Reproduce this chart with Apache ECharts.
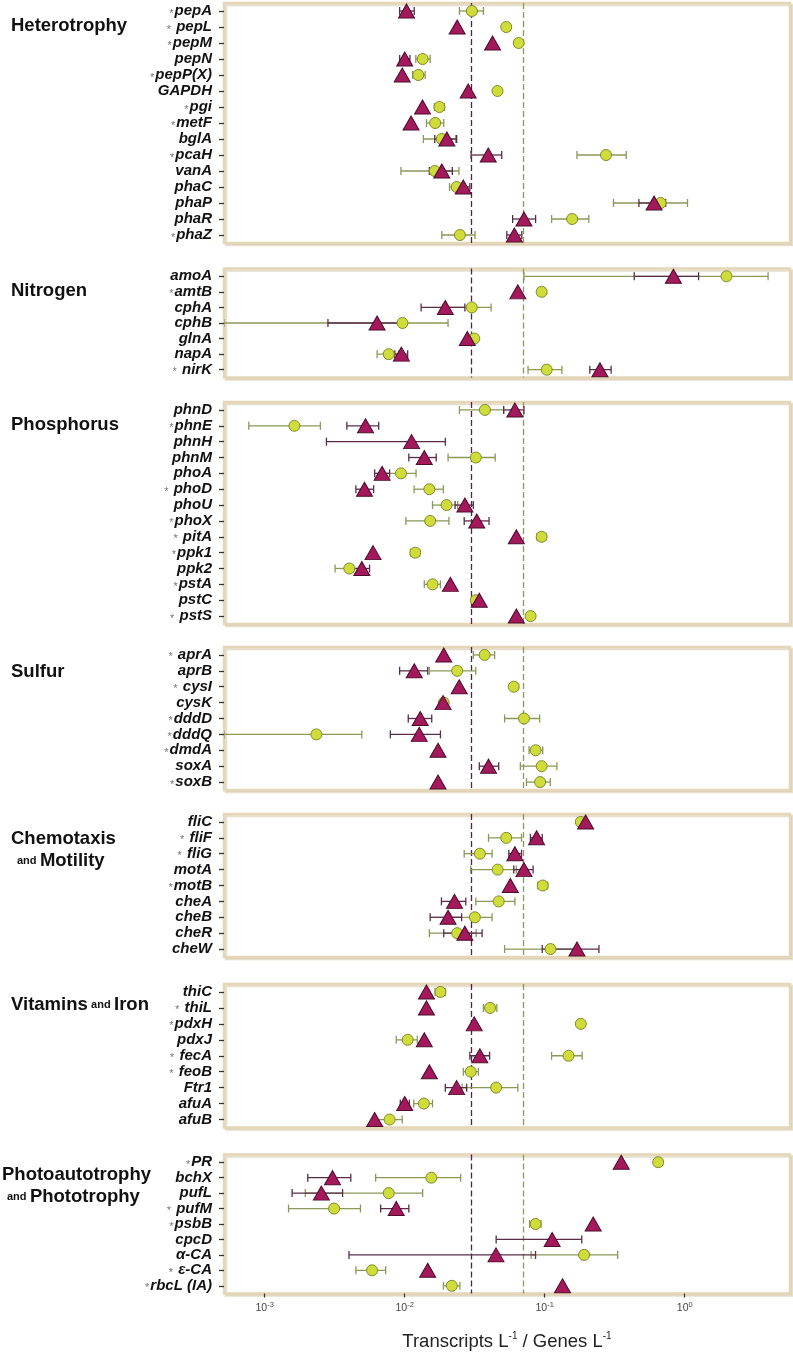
<!DOCTYPE html>
<html><head><meta charset="utf-8">
<script src="https://cdn.jsdelivr.net/npm/echarts@6/dist/echarts.min.js"></script>
<style>html,body{margin:0;padding:0;background:#fff}#c{width:793px;height:1352px}</style>
</head><body><div id="c"></div><script>
// ---------- DATA ----------
const tickValues = [0.001, 0.01, 0.1, 1];
const refLines = [0.0322, 0.0722];           // purple (triangles), green (circles)

const heteroGenes = ['*pepA','* pepL','*pepM','pepN','*pepP(X)','GAPDH','*pgi','*metF','bglA','*pcaH','vanA','phaC','phaP','phaR','*phaZ'];
const heteroTri   = [0.0103,0.0237,0.0424,0.0100,0.0096,0.0284,0.0134,0.0111,0.0200,0.0395,0.0184,0.0262,0.604,0.0711,0.0607];
const heteroTriErr= [[0.0092,0.0117],null,null,[0.0092,0.0109],null,null,null,null,[0.0164,0.0235],[0.0298,0.0493],[0.0150,0.0219],[0.0232,0.0292],[0.471,0.731],[0.059,0.0861],[0.0536,0.0686]];
const heteroCirc  = [0.0302,0.0531,0.0652,0.01344,0.0125,0.046,0.0177,0.0165,0.0184,0.274,0.0164,0.0235,0.673,0.157,0.0248];
const heteroCircErr=[[0.0246,0.0365],null,null,[0.0120,0.0152],[0.0114,0.0140],null,[0.0163,0.0192],[0.0143,0.0190],[0.0136,0.0231],[0.170,0.382],[0.0094,0.0244],[0.0209,0.0261],[0.310,1.047],[0.112,0.2065],[0.0184,0.0318]];

const nitroGenes = ['amoA','*amtB','cphA','cphB','glnA','napA','* nirK'];
const nitroTri   = [0.83,0.0643,0.0195,0.00635,0.028,0.00947,0.248];
const nitroTriErr= [[0.436,1.256],null,[0.0131,0.0269],[0.00283,0.0099],null,[0.0085,0.0105],[0.21,0.298]];
const nitroCirc  = [1.99,0.0951,0.0301,0.00964,0.0314,0.00769,0.1033];
const nitroCircErr=[[0.0711,3.94],[0.089,0.101],[0.0188,0.0414],[-0.001,0.0204],null,[0.00635,0.00903],[0.076,0.1327]];

const phosGenes = ['phnD','*phnE','phnH','phnM','phoA','* phoD','phoU','*phoX','* pitA','*ppk1','ppk2','*pstA','pstC','* pstS'];
const phosTri   = [0.0612,0.00525,0.0112,0.0138,0.0069,0.00516,0.0269,0.0327,0.0627,0.00594,0.00494,0.0212,0.0341,0.0627];
const phosTriErr= [[0.0509,0.0711],[0.00386,0.00652],[0.00276,0.0195],[0.0107,0.0168],[0.0061,0.0078],[0.00448,0.0060],[0.0229,0.0309],[0.0266,0.040],null,null,[0.00427,0.00561],null,null,null];
const phosCirc  = [0.0374,0.00163,null,0.0322,0.0094,0.0150,0.0199,0.0152,0.0951,0.0119,0.00402,0.0158,0.0322,0.0793];
const phosCircErr=[[0.0246,0.0509],[0.00077,0.0025],null,[0.0204,0.0443],[0.00675,0.01205],[0.01167,0.0189],[0.0158,0.0239],[0.0102,0.0207],[0.088,0.102],[0.011,0.0128],[0.00318,0.00486],[0.0138,0.018],null,null];

const sulfGenes = ['* aprA','aprB','* cysI','cysK','*dddD','*dddQ','*dmdA','soxA','*soxB'];
const sulfTri   = [0.019,0.0117,0.0245,0.0188,0.0129,0.0127,0.0173,0.0397,0.0173];
const sulfTriErr= [null,[0.0092,0.0146],null,null,[0.0106,0.0156],[0.0079,0.018],null,[0.0341,0.0469],null];
const sulfCirc  = [0.0372,0.0237,0.0601,0.019,0.0711,0.00234,0.0861,0.0951,0.0927];
const sulfCircErr=[[0.0309,0.0439],[0.015,0.0322],[0.057,0.064],null,[0.0517,0.092],[-0.0003,0.00494],[0.0773,0.0968],[0.067,0.1222],[0.0741,0.1096]];

const chemGenes = ['fliC','* fliF','* fliG','motA','*motB','cheA','cheB','cheR','cheW'];
const chemTri   = [0.196,0.0875,0.0612,0.0711,0.0568,0.0227,0.0204,0.0269,0.170];
const chemTriErr= [null,[0.079,0.096],[0.0554,0.0683],[0.0601,0.0826],null,[0.0183,0.0273],[0.0152,0.0255],[0.019,0.0357],[0.096,0.244]];
const chemCirc  = [0.181,0.0531,0.0344,0.0461,0.0968,0.0469,0.0317,0.0237,0.110];
const chemCircErr=[null,[0.0397,0.0683],[0.0266,0.0421],[0.0296,0.0626],[0.089,0.105],[0.0322,0.0612],[0.0213,0.0421],[0.015,0.0324],[0.0517,0.169]];

const vitGenes = ['thiC','* thiL','*pdxH','pdxJ','* fecA','* feoB','Ftr1','afuA','afuB'];
const vitTri   = [0.0143,0.0143,0.0314,0.0138,0.0344,0.015,0.0235,0.0100,0.0061];
const vitTriErr= [null,null,null,null,[0.0292,0.0404],null,[0.0195,0.0277],[0.0093,0.0108],null];
const vitCirc  = [0.018,0.0407,0.181,0.0105,0.148,0.0296,0.045,0.0137,0.0078];
const vitCircErr=[[0.0165,0.0195],[0.0365,0.0455],null,[0.0087,0.0123],[0.112,0.185],[0.0262,0.0336],[0.0257,0.0643],[0.0116,0.0158],[0.006,0.0096]];

const photoGenes = ['*PR','bchX','pufL','* pufM','*psbB','cpcD','α-CA','* ε-CA','*rbcL (IA)'];
const photoTri   = [0.352,0.00305,0.00254,0.0087,0.222,0.113,0.0449,0.0146,0.134];
const photoTriErr= [null,[0.00203,0.00412],[0.00157,0.0036],[0.00673,0.0107],null,[0.045,0.184],[0.004,0.086],null,null];
const photoCirc  = [0.646,0.0155,0.00769,0.00313,0.0861,null,0.191,0.00585,0.0217];
const photoCircErr=[null,[0.0062,0.0251],[0.00195,0.01343],[0.00148,0.00483],[0.078,0.094],null,[0.08,0.332],[0.00448,0.00731],[0.0189,0.0248]];

const panels = [
  {genes: heteroGenes, tri: heteroTri, triErr: heteroTriErr, circ: heteroCirc, circErr: heteroCircErr},
  {genes: nitroGenes, tri: nitroTri, triErr: nitroTriErr, circ: nitroCirc, circErr: nitroCircErr},
  {genes: phosGenes, tri: phosTri, triErr: phosTriErr, circ: phosCirc, circErr: phosCircErr},
  {genes: sulfGenes, tri: sulfTri, triErr: sulfTriErr, circ: sulfCirc, circErr: sulfCircErr},
  {genes: chemGenes, tri: chemTri, triErr: chemTriErr, circ: chemCirc, circErr: chemCircErr},
  {genes: vitGenes, tri: vitTri, triErr: vitTriErr, circ: vitCirc, circErr: vitCircErr},
  {genes: photoGenes, tri: photoTri, triErr: photoTriErr, circ: photoCirc, circErr: photoCircErr}
];

// ---------- LAYOUT / STYLE ----------
const X_MIN = 5.12e-4, X_MAX = 5.65;
const boxes = [[3,240],[268.5,109],[402,222],[647,143],[814,143],[984,143.5],[1154.5,146]];
const GRID_LEFT = 224, GRID_RIGHT = 3;
const TRI_FILL = '#a3195b', TRI_EDGE = '#4d0c2c', TRI_BAR = '#5b2c4a';
const CIR_FILL = '#cfdc3a', CIR_EDGE = '#7f8c2a', CIR_BAR = '#8a9858';
const FONT = 'Liberation Sans, Arial, sans-serif';

function errRenderer(color) {
  return function (params, api) {
    const a = api.coord([api.value(0), api.value(2)]);
    const b = api.coord([api.value(1), api.value(2)]);
    const y = a[1], h = 4;
    const st = {stroke: color, lineWidth: 1.3};
    return {type: 'group', children: [
      {type: 'line', shape: {x1: a[0], y1: y, x2: b[0], y2: y}, style: st},
      {type: 'line', shape: {x1: a[0], y1: y - h, x2: a[0], y2: y + h}, style: st},
      {type: 'line', shape: {x1: b[0], y1: y - h, x2: b[0], y2: y + h}, style: st}
    ]};
  };
}
function errData(arr) {
  const out = [];
  arr.forEach((e, i) => { if (e) out.push([Math.max(e[0], X_MIN), Math.min(e[1], X_MAX), i]); });
  return out;
}
function ptData(arr) {
  const out = [];
  arr.forEach((v, i) => { if (v != null) out.push([v, i]); });
  return out;
}

const grid = [], xAxis = [], yAxis = [], series = [];
panels.forEach((p, k) => {
  const last = k === panels.length - 1;
  grid.push({left: GRID_LEFT, right: GRID_RIGHT, top: boxes[k][0], height: boxes[k][1],
    show: true, borderColor: '#e4d6b6', borderWidth: 2.5, backgroundColor: '#fff',
    shadowColor: 'rgba(215,200,170,0.6)', shadowBlur: 0, shadowOffsetX: 2, shadowOffsetY: 2});
  xAxis.push({type: 'log', logBase: 10, gridIndex: k, min: X_MIN, max: X_MAX, show: last,
    axisLine: {show: false}, splitLine: {show: false},
    axisTick: {show: last, length: 4, inside: false, customValues: tickValues, lineStyle: {color: '#333', width: 1.2}},
    axisLabel: {show: last, margin: 7, customValues: tickValues,
      formatter: v => '{b|10}{s|' + Math.round(Math.log10(v)) + '}',
      rich: {b: {fontFamily: FONT, fontSize: 10.5, color: '#444'}, s: {fontFamily: FONT, fontSize: 7.5, color: '#444', padding: [0, 0, 7, 0]}}},
    name: last ? '{t|Transcripts L}{s|-1}{t| / Genes L}{s|-1}' : '',
    nameLocation: 'middle', nameGap: 38,
    nameTextStyle: {rich: {t: {fontFamily: FONT, fontSize: 18.5, color: '#222'}, s: {fontFamily: FONT, fontSize: 10, color: '#222', padding: [0, 0, 10, 0]}}}
  });
  yAxis.push({type: 'category', gridIndex: k, data: p.genes, inverse: true, boundaryGap: true,
    axisLine: {show: false}, splitLine: {show: false},
    axisTick: {show: true, length: 5, alignWithLabel: true, lineStyle: {color: '#333', width: 1.3}},
    axisLabel: {interval: 0, margin: 12,
      formatter: v => v.charAt(0) === '*' ? '{a|*}{g|' + v.slice(1) + '}' : '{g|' + v + '}',
      rich: {g: {fontFamily: FONT, fontWeight: 'bold', fontStyle: 'italic', fontSize: 15, color: '#111'},
             a: {fontFamily: FONT, fontSize: 11, color: '#777', padding: [5, 1, 0, 0]}}}
  });
  series.push({type: 'custom', name: 'circle-err', xAxisIndex: k, yAxisIndex: k, z: 2, clip: true,
    renderItem: errRenderer(CIR_BAR), encode: {x: 0, y: 2}, data: errData(p.circErr)});
  series.push({type: 'custom', name: 'triangle-err', xAxisIndex: k, yAxisIndex: k, z: 2, clip: true,
    renderItem: errRenderer(TRI_BAR), encode: {x: 0, y: 2}, data: errData(p.triErr)});
  series.push({type: 'scatter', name: 'circle', xAxisIndex: k, yAxisIndex: k, z: 3,
    symbol: 'circle', symbolSize: 11, data: ptData(p.circ),
    itemStyle: {color: CIR_FILL, borderColor: CIR_EDGE, borderWidth: 1, opacity: 1},
    markLine: {silent: true, symbol: 'none', z: 1, label: {show: false}, animation: false,
      data: [{xAxis: refLines[0], lineStyle: {color: '#4a2a40', type: [6, 3], width: 1.3}},
             {xAxis: refLines[1], lineStyle: {color: '#8a9a5a', type: [6, 3], width: 1.3}}]}});
  series.push({type: 'scatter', name: 'triangle', xAxisIndex: k, yAxisIndex: k, z: 4,
    symbol: 'triangle', symbolSize: [16, 14], data: ptData(p.tri),
    itemStyle: {color: TRI_FILL, borderColor: TRI_EDGE, borderWidth: 1, opacity: 1}});
});

const gRich = {b: {fontFamily: FONT, fontWeight: 'bold', fontSize: 18.5, fill: '#111'},
               s: {fontFamily: FONT, fontWeight: 'bold', fontSize: 11, fill: '#111'}};
const titles = [
  [11, 27, '{b|Heterotrophy}'], [11, 292, '{b|Nitrogen}'], [11, 426, '{b|Phosphorus}'], [11, 673, '{b|Sulfur}'],
  [11, 840, '{b|Chemotaxis}'], [17, 862, '{s|and} {b|Motility}'],
  [11, 1006, '{b|Vitamins} {s|and} {b|Iron}'],
  [2, 1176, '{b|Photoautotrophy}'], [7, 1198, '{s|and} {b|Phototrophy}']
];
const graphic = titles.map(t => ({type: 'text', left: t[0], top: t[1] - 11,
  style: {text: t[2], rich: gRich, verticalAlign: 'top'}}));

const chart = echarts.init(document.getElementById('c'), null, {renderer: 'canvas'});
chart.setOption({animation: false, backgroundColor: '#fff', grid, xAxis, yAxis, series, graphic});
</script></body></html>
